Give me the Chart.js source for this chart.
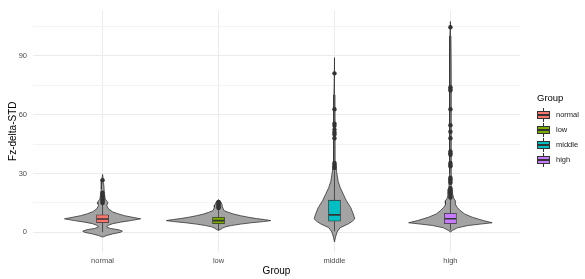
<!DOCTYPE html>
<html>
<head>
<meta charset="utf-8">
<script src="https://cdn.jsdelivr.net/npm/chart.js@4.4.1/dist/chart.umd.min.js"></script>
<style>
  html, body { margin: 0; padding: 0; background: #fff; }
  #wrap { position: relative; width: 585px; height: 279px; font-family: "Liberation Sans", Arial, sans-serif; }
  #legend { position: absolute; left: 537px; top: 92px; color: #000; }
  #legend .ttl { font-size: 9.5px; line-height: 11px; margin-bottom: 4px; }
  #legend .row { display: flex; align-items: center; height: 15px; }
  #legend .key { position: relative; width: 13px; height: 14px; margin-right: 6px; }
  #legend .wh { position: absolute; left: 6px; top: 0; width: 1px; height: 14px; background: #333; }
  #legend .bx { position: absolute; left: 0; top: 3px; width: 11px; height: 6px; border: 1px solid #333; }
  #legend .md { position: absolute; left: 1px; top: 6px; width: 11px; height: 2px; background: #333; }
  #legend .lbl { font-size: 7.5px; color: #1a1a1a; }
</style>
</head>
<body>
<div id="wrap">
  <canvas id="chart" width="585" height="279"></canvas>
  <div id="legend"></div>
</div>
<script>
// Fz-delta-STD by Group: violin + boxplot + outliers (ggplot look)
const groups = ['normal', 'low', 'middle', 'high'];
const groupColors = ['#F8766D', '#7CAE00', '#00BFC4', '#C77CFF'];
const xPos = [1, 2, 3, 4];

// boxplot stats
const boxQ1 = [4.9, 4.4, 5.7, 4.4];
const boxMed = [6.8, 6.0, 8.9, 6.9];
const boxQ3 = [8.9, 7.7, 16.4, 9.7];
const whiskLo = [0.1, 1.2, 0.5, 1.0];
const whiskHi = [14.6, 12.3, 31.5, 17.3];

// outliers
const outNormal = [14.9, 15.5, 16.2, 17.0, 17.8, 18.5, 19.3, 20.2, 26.6];
const outLow = [12.4, 12.9, 13.5, 14.1, 14.8, 15.5];
const outMiddle = [32.8, 33.6, 34.5, 35.3, 47.9, 49.9, 50.8, 52.3, 54.3, 55.4, 62.7, 81.0];
const outHigh = [17.7, 18.5, 19.5, 20.5, 21.5, 22.5, 25.3, 26.2, 27.0, 27.8, 33.7, 34.5, 35.3,
  39.5, 40.3, 41.2, 47.9, 51.3, 54.6, 62.7, 72.2, 73.0, 73.9, 104.5];

// violin density profiles (y value, relative density 0..1)
const vioNormalY = [-2.4, -1.6, -0.8, 0, 0.6, 1.3, 2.0, 2.7, 3.5, 4.4, 5.2, 6.0, 6.9, 7.7, 8.5, 9.5, 10.5, 12, 13.6, 14.5, 15.2, 16, 17, 19, 22, 25, 27, 29.5];
const vioNormalD = [0, 0.08, 0.19, 0.34, 0.38, 0.31, 0.15, 0.08, 0.10, 0.19, 0.34, 0.54, 0.73, 0.57, 0.42, 0.29, 0.19, 0.11, 0.08, 0.09, 0.10, 0.08, 0.05, 0.04, 0.03, 0.02, 0.012, 0];
const vioLowY = [1.0, 1.5, 2.2, 2.8, 3.5, 4.2, 4.9, 5.5, 6.0, 6.5, 7.0, 7.7, 8.5, 9.3, 10.2, 11.0, 11.9, 12.7, 14.0, 15.2, 16.0, 16.6];
const vioLowD = [0, 0.04, 0.08, 0.13, 0.25, 0.42, 0.63, 0.86, 1.0, 0.88, 0.73, 0.57, 0.42, 0.29, 0.19, 0.11, 0.09, 0.08, 0.07, 0.05, 0.03, 0];
const vioMiddleY = [-4.9, -2.4, 0.2, 2.4, 4.4, 5.6, 6.9, 9.4, 12.7, 16, 19.4, 22.8, 26, 31, 36, 50, 70, 85, 89];
const vioMiddleD = [0, 0.02, 0.05, 0.11, 0.27, 0.34, 0.39, 0.36, 0.31, 0.23, 0.17, 0.11, 0.07, 0.04, 0.02, 0.012, 0.01, 0.006, 0];
const vioHighY = [0.2, 1.0, 2.3, 3.5, 4.2, 4.9, 6.0, 7.7, 9.4, 11.1, 12.7, 14.1, 15.0, 16.1, 17.0, 17.7, 19.3, 22, 30, 50, 80, 100, 107.4];
const vioHighD = [0, 0.04, 0.13, 0.34, 0.57, 0.80, 0.63, 0.42, 0.27, 0.19, 0.13, 0.10, 0.09, 0.10, 0.07, 0.06, 0.045, 0.03, 0.02, 0.015, 0.012, 0.01, 0];

const yTicks = [0, 15, 30, 45, 60, 75, 90, 105];

const VIOLIN_HALF = 0.45; // widest half-width in x units
const BOX_HALF = 0.05;
const DARK = '#333333';

const vioY = [vioNormalY, vioLowY, vioMiddleY, vioHighY];
const vioD = [vioNormalD, vioLowD, vioMiddleD, vioHighD];
const outliers = [outNormal, outLow, outMiddle, outHigh];

function violinShape(i) {
  const ys = vioY[i], ds = vioD[i];
  const right = ys.map((y, k) => ({ x: xPos[i] + ds[k] * VIOLIN_HALF, y }));
  const left = ys.map((y, k) => ({ x: xPos[i] - ds[k] * VIOLIN_HALF, y })).reverse();
  return right.concat(left);
}

const datasets = [];
groups.forEach((g, i) => {
  datasets.push({
    label: g + ' violin', data: violinShape(i), showLine: true, fill: 'shape',
    backgroundColor: '#a3a3a3', borderColor: DARK, borderWidth: 0.8, pointRadius: 0, order: 5
  });
  datasets.push({
    label: g + ' whisker', data: [{ x: xPos[i], y: whiskLo[i] }, { x: xPos[i], y: whiskHi[i] }],
    showLine: true, borderColor: DARK, borderWidth: 0.8, pointRadius: 0, order: 4
  });
  datasets.push({
    label: g + ' median', data: [{ x: xPos[i] - BOX_HALF, y: boxMed[i] }, { x: xPos[i] + BOX_HALF, y: boxMed[i] }],
    showLine: true, borderColor: DARK, borderWidth: 1.6, pointRadius: 0, order: 2
  });
  datasets.push({
    label: g + ' outliers', data: outliers[i].map(v => ({ x: xPos[i], y: v })),
    pointRadius: 2.2, backgroundColor: DARK, borderWidth: 0, order: 1
  });
});
datasets.push({
  type: 'bar', label: 'box',
  data: groups.map((g, i) => ({ x: xPos[i], y: [boxQ1[i], boxQ3[i]] })),
  backgroundColor: groupColors, borderColor: DARK, borderWidth: 0.8, borderSkipped: false,
  barThickness: 12, order: 3
});

Chart.defaults.font.family = '"Liberation Sans", Arial, sans-serif';

new Chart(document.getElementById('chart'), {
  type: 'scatter',
  data: { datasets },
  options: {
    responsive: false, animation: false, devicePixelRatio: 1,
    layout: { padding: { left: 0, right: 65, top: 7, bottom: 0 } },
    plugins: { legend: { display: false }, tooltip: { enabled: false } },
    scales: {
      x: {
        type: 'linear', min: 0.4, max: 4.6, offset: false,
        afterBuildTicks: s => { s.ticks = xPos.map(v => ({ value: v })); },
        afterFit: s => { s.height = 27; },
        ticks: { callback: v => groups[v - 1] || '', font: { size: 7.5 }, color: '#4d4d4d', padding: 4, maxRotation: 0, autoSkip: false },
        grid: { color: '#ebebeb', lineWidth: 1, drawTicks: false, offset: false },
        border: { display: false },
        title: { display: true, text: 'Group', font: { size: 10 }, color: '#000', padding: { top: 0, bottom: 2 } }
      },
      y: {
        type: 'linear', min: -10, max: 113,
        afterBuildTicks: s => { s.ticks = yTicks.map(v => ({ value: v })); },
        afterFit: s => { s.width = 33; },
        ticks: { callback: v => (v % 30 === 0 ? v : ''), font: { size: 7.5 }, color: '#4d4d4d', padding: 6 },
        grid: { color: c => (c.tick && c.tick.value % 30 === 0 ? '#ebebeb' : '#f3f3f3'), lineWidth: 1, drawTicks: false },
        border: { display: false },
        title: { display: true, text: 'Fz-delta-STD', font: { size: 10 }, color: '#000', padding: { top: 7, bottom: 0 } }
      }
    }
  }
});

// legend (boxplot glyph keys)
const leg = document.getElementById('legend');
let html = '<div class="ttl">Group</div>';
groups.forEach((g, i) => {
  html += '<div class="row"><div class="key"><div class="wh"></div>' +
    '<div class="bx" style="background:' + groupColors[i] + '"></div><div class="md"></div></div>' +
    '<span class="lbl">' + g + '</span></div>';
});
leg.innerHTML = html;
</script>
</body>
</html>
